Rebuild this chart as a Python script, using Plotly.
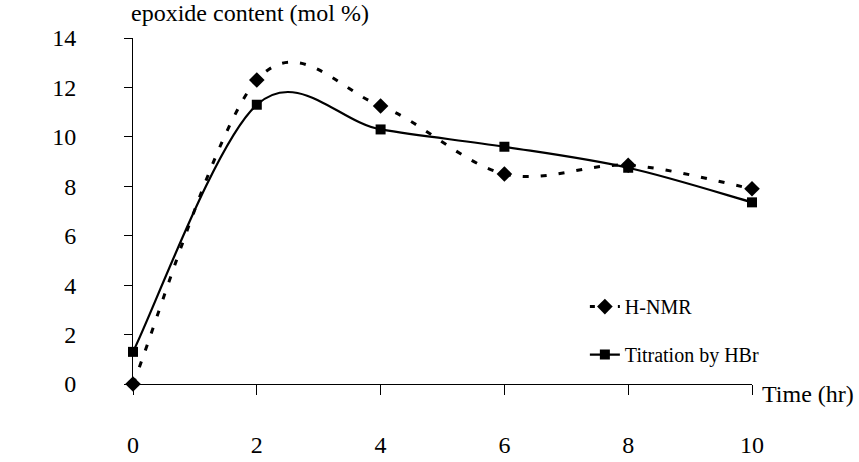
import plotly.graph_objects as go

time_hr = [0, 2, 4, 6, 8, 10]
h_nmr = [0.0, 12.3, 11.25, 8.5, 8.85, 7.9]
titration_hbr = [1.3, 11.3, 10.3, 9.6, 8.75, 7.35]
x_ticks = [0, 2, 4, 6, 8, 10]
y_ticks = [0, 2, 4, 6, 8, 10, 12, 14]

FONT = "Liberation Serif"


def smooth_path(xs, ys):
    """Catmull-Rom style smoothed path (cubic Bezier segments) in data units."""
    n = len(xs)
    parts = [f"M {xs[0]},{ys[0]}"]
    for i in range(n - 1):
        x0, y0 = (xs[i - 1], ys[i - 1]) if i > 0 else (xs[i], ys[i])
        x1, y1 = xs[i], ys[i]
        x2, y2 = xs[i + 1], ys[i + 1]
        x3, y3 = (xs[i + 2], ys[i + 2]) if i + 2 < n else (xs[i + 1], ys[i + 1])
        c1x, c1y = x1 + (x2 - x0) / 6, y1 + (y2 - y0) / 6
        c2x, c2y = x2 - (x3 - x1) / 6, y2 - (y3 - y1) / 6
        parts.append(f"C {c1x},{c1y} {c2x},{c2y} {x2},{y2}")
    return " ".join(parts)


fig = go.Figure()

# smoothed curves (drawn as Bezier paths on the data axes)
fig.add_shape(type="path", xref="x", yref="y", path=smooth_path(time_hr, h_nmr),
              line=dict(color="black", width=3, dash="6px,12px"), layer="below")
fig.add_shape(type="path", xref="x", yref="y", path=smooth_path(time_hr, titration_hbr),
              line=dict(color="black", width=2.2), layer="below")

# data markers
fig.add_trace(go.Scatter(x=time_hr, y=h_nmr, mode="markers", showlegend=False,
                         marker=dict(symbol="diamond", size=12, color="black"),
                         cliponaxis=False, hoverinfo="x+y"))
fig.add_trace(go.Scatter(x=time_hr, y=titration_hbr, mode="markers", showlegend=False,
                         marker=dict(symbol="square", size=10, color="black"),
                         cliponaxis=False, hoverinfo="x+y"))

# legend entries
fig.add_trace(go.Scatter(x=[None], y=[None], name="H-NMR", mode="lines+markers",
                         line=dict(color="black", width=3, dash="5px,9px"),
                         marker=dict(symbol="diamond", size=12, color="black"),
                         legendgroup="a"))
fig.add_trace(go.Scatter(x=[None], y=[None], name="Titration by HBr", mode="lines+markers",
                         line=dict(color="black", width=2.2),
                         marker=dict(symbol="square", size=10, color="black"),
                         legendgroup="b"))

fig.update_layout(
    width=859, height=462,
    margin=dict(l=133, r=107, t=38, b=78),
    paper_bgcolor="white", plot_bgcolor="white",
    font=dict(family=FONT, color="black", size=24),
    showlegend=True,
    legend=dict(x=0.73, y=0.28, xanchor="left", yanchor="top",
                font=dict(family=FONT, size=20, color="black"),
                bgcolor="rgba(0,0,0,0)", tracegroupgap=19,
                traceorder="grouped"),
    annotations=[
        dict(text="epoxide content (mol %)", xref="paper", yref="paper",
             x=0.0, y=1.0, xanchor="left", yanchor="middle", yshift=25, xshift=-4,
             showarrow=False, font=dict(family=FONT, size=24)),
        dict(text="Time (hr)", xref="paper", yref="paper",
             x=1.0, y=0.0, xanchor="left", yanchor="middle", xshift=8, yshift=-10,
             showarrow=False, font=dict(family=FONT, size=24)),
    ],
)
fig.update_xaxes(
    range=[0, 10], tickvals=x_ticks, ticktext=[str(v) for v in x_ticks],
    showgrid=False, zeroline=False, showline=True, linecolor="black", linewidth=1,
    ticks="outside", ticklen=10, tickcolor="black", ticklabelstandoff=29,
    tickfont=dict(family=FONT, size=24), automargin=False,
)
fig.update_yaxes(
    range=[0, 14], tickvals=y_ticks, ticktext=[str(v) for v in y_ticks],
    showgrid=False, zeroline=False, showline=True, linecolor="black", linewidth=1,
    ticks="outside", ticklen=8, tickcolor="black", ticklabelstandoff=43,
    tickfont=dict(family=FONT, size=24), automargin=False,
)

fig.write_html("out.html", config={"displayModeBar": False},
               post_script="document.body.style.margin='0px';")
